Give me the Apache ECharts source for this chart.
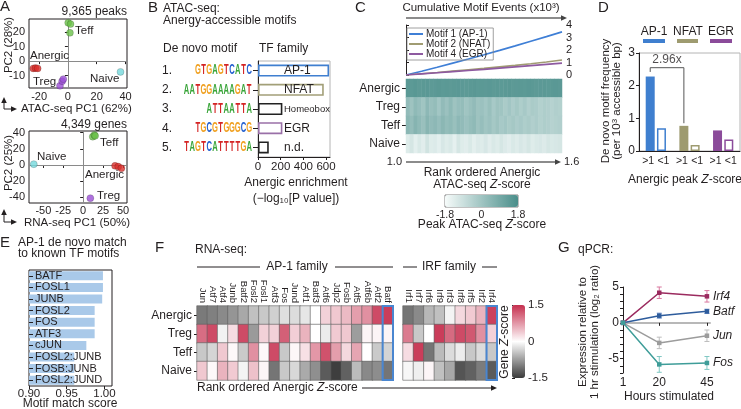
<!DOCTYPE html>
<html>
<head>
<meta charset="utf-8">
<script src="https://cdn.jsdelivr.net/npm/echarts@6/dist/echarts.min.js"></script>
<style>
  html, body { margin: 0; padding: 0; background: #fff; }
  #chart { width: 741px; height: 409px; }
</style>
</head>
<body>
<div id="chart"></div>
<script>
const FONT = 'Liberation Sans, Arial, Helvetica, sans-serif';
const INK = '#231f20';

// ---------- A: PCA ----------
const atacTeff = [[0.2, 26.4], [1.8, 25.5], [1.4, 19.5]];
const atacAnergic = [[-24, -5], [-22.5, -4.8], [-21, -5]];
const atacTreg = [[-5.5, -17], [-4, -13.8], [-3.2, -12.4]];
const atacNaive = [[36.5, -7.4]];
const rnaTeff = [[12, 35], [14, 37], [15, 36]];
const rnaAnergic = [[40, -1], [44, -2], [48, -4]];
const rnaTreg = [[9, -41]];
const rnaNaive = [[-62, 1]];
const aTopXTicks = [-20, 0, 20, 40];
const aTopYTicks = [-10, 0, 10, 20];
const aBotXTicks = [-50, -25, 0, 25, 50];
const aBotYTicks = [-40, -20, 0, 20, 40];

// ---------- B: de novo motifs ----------
const bNumbers = ['1.', '2.', '3.', '4.', '5.'];
const bMotifs = ['GTGAGTCATC', 'AATGGAAAAGAT', 'ATTAATTA', 'TGCGTGGGCG', 'TAGTCATTTTGA'];
const bFamilies = ['AP-1', 'NFAT', 'Homeobox', 'EGR', 'n.d.'];
const bEnrich = [627, 580, 215, 215, 95];
const bXTicks = [0, 200, 400, 600];

// ---------- C: cumulative motif events + heatmap ----------
const cLineNames = ['Motif 1 (AP-1)', 'Motif 2 (NFAT)', 'Motif 4 (EGR)'];
const cumAP1 = [0, 0.3, 0.62, 0.95, 1.28, 1.62, 1.97, 2.33, 2.7, 3.07, 3.45];
const cumNFAT = [0, 0.1, 0.2, 0.31, 0.42, 0.53, 0.65, 0.77, 0.9, 1.04, 1.2];
const cumEGR = [0, 0.09, 0.18, 0.27, 0.36, 0.45, 0.55, 0.65, 0.75, 0.85, 0.95];
const cRows = ['Anergic', 'Treg', 'Teff', 'Naive'];
const cAnergic = [1.45,1.42,1.48,1.40,1.44,1.46,1.41,1.43,1.47,1.42,1.45,1.40,1.44,1.46,1.43,1.41,1.45,1.47,1.42,1.44,1.43,1.46,1.40,1.45,1.42,1.44,1.47,1.41,1.43,1.45,1.42,1.46,1.44,1.40,1.43,1.45,1.42,1.44,1.46,1.43];
const cTreg = [0.3,0.05,0.35,0.2,0.0,0.4,0.15,0.25,-0.05,0.3,0.1,0.35,0.05,0.2,0.25,0.0,0.15,0.3,0.05,0.1,-0.05,0.15,-0.15,0.05,0.0,-0.2,-0.05,-0.25,-0.1,-0.3,-0.15,-0.35,-0.2,-0.25,-0.4,-0.3,-0.35,-0.45,-0.35,-0.4];
const cTeff = [0.45,0.25,0.55,0.35,0.15,0.5,0.3,0.4,0.2,0.45,0.25,0.35,0.15,0.4,0.3,0.1,0.25,0.35,0.05,0.2,0.0,0.1,-0.1,0.05,-0.15,-0.05,-0.2,-0.1,-0.25,-0.15,-0.3,-0.2,-0.35,-0.25,-0.4,-0.3,-0.35,-0.45,-0.4,-0.35];
const cNaive = [-1.3,-1.1,-1.4,-1.2,-1.35,-1.0,-1.3,-1.25,-1.4,-1.15,-1.3,-1.2,-1.45,-1.1,-1.3,-1.35,-1.2,-1.4,-1.25,-1.3,-1.15,-1.35,-1.2,-1.3,-1.1,-1.25,-1.35,-1.2,-1.3,-1.15,-1.25,-1.1,-1.3,-1.2,-1.15,-1.25,-1.1,-1.2,-1.15,-1.1];
const cBarTicks = [-1.8, 0, 1.8];

// ---------- D: motif frequency ----------
const dFamilies = ['AP-1', 'NFAT', 'EGR'];
const dHigh = [2.28, 0.77, 0.63];
const dLow = [0.70, 0.18, 0.35];

// ---------- E: AP-1 match scores ----------
const eMotifs = ['BATF', 'FOSL1', 'JUNB', 'FOSL2', 'FOS', 'ATF3', 'cJUN', 'FOSL2:JUNB', 'FOSB:JUNB', 'FOSL2:JUND'];
const eScores = [0.998, 0.998, 0.997, 0.987, 0.987, 0.987, 0.976, 0.96, 0.96, 0.96];
const eXTicks = [0.9, 0.95, 1.0];

// ---------- F: RNA-seq heatmaps ----------
const fRows = ['Anergic', 'Treg', 'Teff', 'Naive'];
const apGenes = ['Jun','Atf7','Atf4','Junb','Batf2','Fosl2','Fosl1','Atf3','Fos','Jund','Atf1','Batf3','Atf6','Jdp2','Fosb','Atf5','Atf6b','Atf2','Batf'];
const apZ = [
  [-1.01,-0.97,-0.89,-0.81,-0.66,-0.48,-0.42,-0.36,-0.24,-0.27,-0.19,0,0.33,0.4,0.5,0.7,0.8,1.3,1.4],
  [1.05,1.3,-0.1,0.25,1.3,-0.77,0.33,0.33,1.15,0.35,0.55,0,-0.15,0.38,0.4,-0.75,0.08,0.08,0.08],
  [-0.42,-0.32,0.4,0.05,-0.4,0.8,0.05,1.3,-0.42,0.06,0.22,0.75,1.25,0.7,0.28,0.65,0,-0.4,-0.33],
  [0.4,0.05,0.55,0.38,-0.08,0.45,0.07,-1.05,-0.42,-0.3,-0.65,-0.85,-1.25,-1.47,-1.2,-0.52,-0.9,-0.87,-1.05]
];
const irfGenes = ['Irf1','Irf7','Irf6','Irf9','Irf3','Irf8','Irf5','Irf2','Irf4'];
const irfZ = [
  [-1.05,-0.89,-0.55,-0.48,-0.08,0.28,0.38,0.55,1.37],
  [0.95,-0.42,0,1.4,1.07,1.3,1.2,0.8,0.33],
  [0.25,1.4,-1.05,-0.52,-0.27,-0.14,-0.42,-0.27,-0.42],
  [-0.06,-0.12,0.07,-0.48,-0.66,-1.3,-1.2,-1.0,-1.25]
];
const fBarTicks = [-1.5, 0, 1.5];

// ---------- G: qPCR ----------
const gHours = [1, 20, 45];
const gGenes = ['Irf4', 'Batf', 'Jun', 'Fos'];
const gMeans = [[0, 4.2, 3.7], [0, 1.0, 1.6], [0, -2.8, -1.8], [0, -5.8, -5.6]];
const gErrs = [[0, 0.8, 0.8], [0, 0.35, 0.3], [0, 0.8, 0.8], [0, 1.1, 0.9]];
const gXTicks = [1, 20, 45];
const gYTicks = [-5, 0, 5];
const gYMinor = [-7, -6, -5, -4, -3, -2, -1, 0, 1, 2, 3, 4, 5];

// ---------- styles ----------
const groupColors = { Anergic: '#d9302c', Teff: '#6cc24a', Treg: '#9b4fd6', Naive: '#74d8dc' };
const logoColors = { A: '#3aa53a', C: '#2460d0', G: '#f0a020', T: '#d42424' };
const bColors = ['#3f7fd0', '#a29f78', '#222222', '#9a70a8', '#222222'];
const cColors = ['#3f7fd6', '#a09c72', '#8e5aa0'];
const dColors = ['#3f7fcf', '#9e9b70', '#8b4b9a'];
const gColors = ['#9b2b5f', '#2e5c9c', '#9c9c9c', '#3f9d99'];
const gErrColors = ['#d9789f', '#7394cc', '#bdbdbd', '#80c8c4'];

const tick = (extra = {}) => Object.assign({ show: true, length: 3, lineStyle: { color: INK, width: 1 } }, extra);
const lab = (extra = {}) => Object.assign({ fontSize: 11.5, color: INK, fontFamily: FONT, margin: 4 }, extra);
const noSplit = { show: false };

const chart = echarts.init(document.getElementById('chart'));
const series = [];

// A scatter
function pcaSeries(name, data, g, zero) {
  const s = {
    type: 'scatter', name: name, xAxisIndex: g, yAxisIndex: g, data: data, symbolSize: 7, z: 5,
    itemStyle: { color: groupColors[name], borderColor: 'rgba(0,0,0,0.35)', borderWidth: 0.6 }
  };
  if (zero) {
    s.markLine = {
      silent: true, symbol: 'none', label: { show: false }, z: 1,
      lineStyle: { color: '#8a8a8a', width: 1, type: 'solid' },
      data: [{ xAxis: 0 }, { yAxis: 0 }]
    };
  }
  return s;
}
series.push(pcaSeries('Teff', atacTeff, 0, true), pcaSeries('Anergic', atacAnergic, 0),
  pcaSeries('Treg', atacTreg, 0), pcaSeries('Naive', atacNaive, 0));
series.push(pcaSeries('Teff', rnaTeff, 1, true), pcaSeries('Anergic', rnaAnergic, 1),
  pcaSeries('Treg', rnaTreg, 1), pcaSeries('Naive', rnaNaive, 1));

// B bars + logos
series.push({
  type: 'bar', xAxisIndex: 2, yAxisIndex: 2, barWidth: 12,
  data: bEnrich.map((v, i) => ({
    value: v,
    itemStyle: { color: '#fff', borderColor: bColors[i], borderWidth: 1.6 },
    label: i === 2 ? { fontSize: 9.5 } : undefined
  })),
  label: { show: true, position: [26, '50%'], align: 'left', verticalAlign: 'middle', fontSize: 12, color: INK, fontFamily: FONT, formatter: '{b}' }
});
series.push({
  type: 'custom', xAxisIndex: 2, yAxisIndex: 2, silent: true, clip: false,
  data: bMotifs.map((m, i) => [0, i]),
  renderItem: function (params, api) {
    const motif = bMotifs[params.dataIndex];
    const y = api.coord([0, api.value(1)])[1];
    const xEnd = params.coordSys.x - 6;
    const lw = 5.7;
    return {
      type: 'group',
      children: motif.split('').map((ch, k) => ({
        type: 'text', x: xEnd - (motif.length - k - 0.5) * lw, y: y, scaleX: 0.8, scaleY: 1.45,
        style: { text: ch, fill: logoColors[ch], fontFamily: FONT, fontWeight: 'bold', fontSize: 9.5, align: 'center', verticalAlign: 'middle' }
      }))
    };
  }
});

// C lines
[cumAP1, cumNFAT, cumEGR].forEach((vals, i) => {
  series.push({
    type: 'line', name: cLineNames[i], xAxisIndex: 3, yAxisIndex: 4, showSymbol: false,
    data: vals.map((v, k) => [k, v]), lineStyle: { width: 1.6, color: cColors[i] }, itemStyle: { color: cColors[i] }
  });
});
// C heatmap
const cHeatIdx = series.length;
const cHeat = [];
[cAnergic, cTreg, cTeff, cNaive].forEach((row, r) => row.forEach((v, c) => cHeat.push([c, r, v])));
series.push({ type: 'heatmap', xAxisIndex: 4, yAxisIndex: 5, data: cHeat });

// D bars
series.push({
  type: 'bar', xAxisIndex: 6, yAxisIndex: 7, barWidth: 9, barGap: '25%',
  data: dHigh.map((v, i) => ({ value: v, itemStyle: { color: dColors[i] } })),
  label: { show: true, position: 'bottom', distance: 5, offset: [-2, 0], formatter: '>1', fontSize: 10.5, color: INK, fontFamily: FONT }
});
series.push({
  type: 'bar', xAxisIndex: 6, yAxisIndex: 7, barWidth: 9, barGap: '25%',
  data: dLow.map((v, i) => ({ value: v, itemStyle: { color: '#fff', borderColor: dColors[i], borderWidth: 1.5 } })),
  label: { show: true, position: 'bottom', distance: 5, offset: [2, 0], formatter: '<1', fontSize: 10.5, color: INK, fontFamily: FONT }
});
// bracket between AP-1 >1 and NFAT >1 (hidden value x axis, category i centre = i + 0.5)
const dOff = ((9 + 9 * 0.25) / 2) / (101 / 3);
const bracketTop = 2.55;
const bracket = [[0.5 - dOff, dHigh[0] + 0.14], [0.5 - dOff, bracketTop], [1.5 - dOff, bracketTop], [1.5 - dOff, dHigh[1] + 0.08]];
series.push({
  type: 'line', xAxisIndex: 7, yAxisIndex: 7, data: bracket, symbol: 'none', silent: true,
  lineStyle: { color: '#555', width: 1 }
});
series.push({
  type: 'scatter', xAxisIndex: 7, yAxisIndex: 7, symbolSize: 0, silent: true,
  data: [[1 - dOff, bracketTop]],
  label: { show: true, position: 'top', distance: 2, fontSize: 12, color: INK, fontFamily: FONT,
    formatter: () => (dHigh[0] / dHigh[1]).toFixed(2) + 'x' }
});

// E bars
series.push({
  type: 'bar', xAxisIndex: 8, yAxisIndex: 8, barWidth: 9, data: eScores, z: 1,
  itemStyle: { color: '#a9c9e9' }
});

// F heatmaps
function heatData(mat) {
  const out = [];
  mat.forEach((row, r) => row.forEach((v, c) => out.push([c, r, v])));
  return out;
}
const fHeatA = series.length;
series.push({ type: 'heatmap', xAxisIndex: 9, yAxisIndex: 9, data: heatData(apZ), itemStyle: { borderColor: '#5e5e5e', borderWidth: 0.6 } });
const fHeatI = series.length;
series.push({ type: 'heatmap', xAxisIndex: 10, yAxisIndex: 10, data: heatData(irfZ), itemStyle: { borderColor: '#5e5e5e', borderWidth: 0.6 } });
function renderColumnBox(params, api) {
  const cs = params.coordSys;
  const c = api.coord([api.value(0), api.value(1)]);
  const w = api.size([1, 0])[0];
  return { type: 'rect', shape: { x: c[0] - w / 2, y: cs.y, width: w, height: cs.height },
    style: { fill: 'none', stroke: '#4a86d0', lineWidth: 2 } };
}
series.push({ type: 'custom', xAxisIndex: 9, yAxisIndex: 9, silent: true, z: 5,
  data: [[apGenes.length - 1, 0]], renderItem: renderColumnBox });
series.push({ type: 'custom', xAxisIndex: 10, yAxisIndex: 10, silent: true, z: 5,
  data: [[irfGenes.length - 1, 0]], renderItem: renderColumnBox });

// G lines with error bars
gGenes.forEach((g, i) => {
  series.push({
    type: 'custom', xAxisIndex: 11, yAxisIndex: 11, silent: true, z: 3,
    itemStyle: { color: gErrColors[i] },
    data: gHours.map((h, k) => [h, gMeans[i][k] - gErrs[i][k], gMeans[i][k] + gErrs[i][k]]).filter((d, k) => gErrs[i][k] > 0),
    renderItem: function (params, api) {
      const x = api.value(0);
      const p1 = api.coord([x, api.value(1)]);
      const p2 = api.coord([x, api.value(2)]);
      const col = api.visual('color');
      const cap = 2.5;
      return { type: 'group', children: [
        { type: 'line', shape: { x1: p1[0], y1: p1[1], x2: p2[0], y2: p2[1] }, style: { stroke: col, lineWidth: 1 } },
        { type: 'line', shape: { x1: p1[0] - cap, y1: p1[1], x2: p1[0] + cap, y2: p1[1] }, style: { stroke: col, lineWidth: 1 } },
        { type: 'line', shape: { x1: p2[0] - cap, y1: p2[1], x2: p2[0] + cap, y2: p2[1] }, style: { stroke: col, lineWidth: 1 } }
      ] };
    }
  });
  series.push({
    type: 'line', name: g, xAxisIndex: 11, yAxisIndex: 11, z: 4,
    data: gHours.map((h, k) => [h, gMeans[i][k]]),
    symbol: 'rect', symbolSize: 4.5,
    lineStyle: { width: 1.5, color: gColors[i] }, itemStyle: { color: gColors[i] },
    endLabel: { show: true, formatter: '{a}', distance: 6, fontStyle: 'italic', fontSize: 12, color: INK, fontFamily: FONT }
  });
});

// ---------- graphic annotations ----------
function T(text, x, y, o = {}) {
  return {
    type: 'text', x: x, y: y, rotation: o.rot ? Math.PI / 2 : 0, silent: true, z: 10,
    style: {
      text: text, fill: INK, fontFamily: FONT, fontSize: o.size || 12,
      fontStyle: o.italic ? 'italic' : 'normal', align: o.align || 'left', verticalAlign: 'middle',
      lineHeight: o.lh, rich: o.rich
    }
  };
}
function L(x1, y1, x2, y2, color = INK, w = 1) {
  return { type: 'line', silent: true, shape: { x1, y1, x2, y2 }, style: { stroke: color, lineWidth: w } };
}
function head(x, y, dir, color = INK) {
  const pts = dir === 'r' ? [[x, y], [x - 6, y - 2.8], [x - 6, y + 2.8]] : [[x, y], [x - 2.8, y + 6], [x + 2.8, y + 6]];
  return { type: 'polygon', silent: true, shape: { points: pts }, style: { fill: color } };
}
const zr = (size) => ({ i: { fontStyle: 'italic', fontSize: size, fontFamily: FONT, fill: INK } });
const RICH = { sup: { fontSize: 8, fontFamily: FONT, fill: INK, verticalAlign: 'top', padding: [0, 0, 5, 0] } };

const elements = [
  // panel letters
  T('A', 0, 7, { size: 15 }), T('B', 148, 8, { size: 15 }), T('C', 355, 8, { size: 15 }),
  T('D', 598, 8, { size: 15 }), T('E', 0, 243, { size: 15 }), T('F', 155, 248, { size: 15 }),
  T('G', 558, 248, { size: 15 }),
  // A
  T('9,365 peaks', 127, 12, { align: 'right' }), T('4,349 genes', 127, 125, { align: 'right' }),
  T('Teff', 75, 31, { size: 11.5 }), T('Anergic', 30, 56, { size: 11.5 }), T('Treg', 33, 82, { size: 11.5 }), T('Naive', 90, 79, { size: 11.5 }),
  T('Teff', 100, 143, { size: 11.5 }), T('Naive', 37, 157, { size: 11.5 }), T('Anergic', 85, 175, { size: 11.5 }), T('Treg', 97, 196, { size: 11.5 }),
  T('PC2 (28%)', 9, 45, { rot: true, align: 'center', size: 11.5 }),
  T('PC2 (25%)', 9, 163, { rot: true, align: 'center', size: 11.5 }),
  T('ATAC-seq PC1 (62%)', 21, 109, { size: 11.5 }),
  T('RNA-seq PC1 (50%)', 24, 223, { size: 11.5 }),
  L(4, 109, 4, 101), head(4, 97, 'u'), L(4, 109, 12, 109), head(17, 109, 'r'),
  L(4, 222, 4, 214), head(4, 209, 'u'), L(4, 222, 12, 222), head(17, 222, 'r'),
  // B
  T('ATAC-seq:', 163, 9), T('Anergy-accessible motifs', 163, 21),
  T('De novo motif', 163, 49), T('TF family', 259, 49),
  T('Anergic enrichment', 296, 183, { align: 'center' }),
  T('(\u2212log\u2081\u2080[P value])', 296, 199, { align: 'center' }),
  // C
  T('Cumulative Motif Events (x10\u00b3)', 481, 8, { align: 'center', size: 11.5 }),
  L(406, 18, 561, 18, '#666', 1.5), head(567, 18, 'r', '#444'),
  T('1.0', 402, 162, { align: 'right', size: 11 }),
  L(406, 162, 555, 162, '#666', 1.5), head(561, 162, 'r', '#444'),
  T('1.6', 564, 162, { size: 11 }),
  T('Rank ordered Anergic', 482, 173, { align: 'center' }),
  T('ATAC-seq {i|Z}-score', 482, 185, { align: 'center', rich: zr(12) }),
  T('Peak ATAC-seq {i|Z}-score', 482, 225, { align: 'center', rich: zr(12) }),
  // D legend + titles
  T('AP-1', 654, 32, { align: 'center' }), T('NFAT', 688, 32, { align: 'center' }), T('EGR', 721, 32, { align: 'center' }),
  { type: 'rect', silent: true, shape: { x: 643, y: 39, width: 22, height: 4 }, style: { fill: dColors[0] } },
  { type: 'rect', silent: true, shape: { x: 677, y: 39, width: 21, height: 4 }, style: { fill: dColors[1] } },
  { type: 'rect', silent: true, shape: { x: 710, y: 39, width: 22, height: 4 }, style: { fill: dColors[2] } },
  T('De novo motif frequency\n(per 10{sup|3} accessible bp)', 611, 101, { rot: true, align: 'center', size: 11.5, lh: 11, rich: RICH }),
  T('Anergic peak {i|Z}-score', 685, 180, { align: 'center', rich: zr(12) }),
  // E
  T('AP-1 de novo match', 18, 243), T('to known TF motifs', 18, 254),
  T('Motif match score', 70, 404, { align: 'center', size: 12 }),
  // F
  T('RNA-seq:', 195, 250),
  L(197, 267, 260, 267), T('AP-1 family', 297, 267, { align: 'center' }), L(335, 267, 393, 267),
  L(403, 267, 417, 267), T('IRF family', 449, 267, { align: 'center' }), L(482, 267, 497, 267),
  T('Rank ordered Anergic {i|Z}-score', 197, 388, { rich: zr(12) }),
  L(362, 388, 492, 388), head(497, 388, 'r'),
  T('Gene {i|Z}-score', 505, 342, { rot: true, align: 'center', rich: zr(12) }),
  // G
  T('qPCR:', 578, 250),
  T('Expression relative to\n1 hr stimulation (log\u2082 ratio)', 589, 332, { rot: true, align: 'center', size: 11.5, lh: 12 }),
  T('Hours stimulated', 669, 397, { align: 'center' })
];

const option = {
  animation: false,
  textStyle: { fontFamily: FONT, color: INK },
  grid: [
    { left: 29, top: 19, width: 98, height: 69, show: true, borderColor: INK, borderWidth: 1 },
    { left: 29, top: 131, width: 98, height: 72, show: true, borderColor: INK, borderWidth: 1 },
    { left: 258, top: 61, width: 72, height: 96, show: true, borderColor: '#b4b4b4', borderWidth: 1 },
    { left: 406, top: 25, width: 156, height: 50 },
    { left: 406, top: 79, width: 156, height: 74 },
    { left: 445, top: 195, width: 73, height: 12, show: true, borderColor: '#666', borderWidth: 0.8 },
    { left: 639, top: 53, width: 101, height: 98, show: true, borderColor: '#b4b4b4', borderWidth: 1 },
    { left: 29, top: 270, width: 83, height: 116, show: true, borderColor: INK, borderWidth: 1 },
    { left: 197, top: 306, width: 196, height: 74 },
    { left: 403, top: 306, width: 94, height: 74 },
    { left: 623, top: 287, width: 87, height: 86 },
    { left: 512, top: 305, width: 13, height: 73 }
  ],
  xAxis: [
    { gridIndex: 0, type: 'value', min: -27, max: 41, axisLine: { show: false }, axisTick: tick({ customValues: aTopXTicks }), axisLabel: lab({ customValues: aTopXTicks, fontSize: 11, margin: 3 }), splitLine: noSplit },
    { gridIndex: 1, type: 'value', min: -68, max: 55, axisLine: { show: false }, axisTick: tick({ customValues: aBotXTicks }), axisLabel: lab({ customValues: aBotXTicks, fontSize: 11, margin: 2 }), splitLine: noSplit },
    { gridIndex: 2, type: 'value', min: 0, max: 635, axisLine: { show: true, lineStyle: { color: INK } }, axisTick: tick({ customValues: bXTicks }), axisLabel: lab({ customValues: bXTicks }), splitLine: noSplit },
    { gridIndex: 3, type: 'value', min: 0, max: 10, show: false },
    { gridIndex: 4, type: 'category', data: cAnergic.map((v, i) => i), show: false },
    { gridIndex: 5, type: 'value', min: -1.8, max: 1.8, axisLine: { show: false }, axisTick: { show: false }, axisLabel: lab({ customValues: cBarTicks, fontSize: 10.5, margin: 3 }), splitLine: noSplit },
    { gridIndex: 6, type: 'category', data: dFamilies, axisLine: { show: true, lineStyle: { color: INK } }, axisTick: { show: false }, axisLabel: { show: false } },
    { gridIndex: 6, type: 'value', min: 0, max: 3, show: false },
    { gridIndex: 7, type: 'value', min: 0.9, max: 1.01, axisLine: { show: false }, axisTick: tick({ customValues: eXTicks }), axisLabel: lab({ customValues: eXTicks, fontSize: 11.5, margin: 2, formatter: v => v.toFixed(2) }), splitLine: noSplit },
    { gridIndex: 8, type: 'category', data: apGenes, position: 'top', axisLine: { show: false }, axisTick: { show: false }, axisLabel: { rotate: 90, fontSize: 9.5, margin: 3, interval: 0, color: INK, fontFamily: FONT } },
    { gridIndex: 9, type: 'category', data: irfGenes, position: 'top', axisLine: { show: false }, axisTick: { show: false }, axisLabel: { rotate: 90, fontSize: 9.5, margin: 3, interval: 0, color: INK, fontFamily: FONT } },
    { gridIndex: 10, type: 'value', min: 1, max: 46.6, axisLine: { show: true, lineStyle: { color: '#b8b8b8', width: 2 } }, axisTick: tick({ customValues: gXTicks }), axisLabel: lab({ customValues: gXTicks, fontSize: 12 }), splitLine: noSplit },
    { gridIndex: 11, type: 'value', min: 0, max: 1, show: false }
  ],
  yAxis: [
    { gridIndex: 0, type: 'value', min: -18.5, max: 29, axisLine: { show: false }, axisTick: tick({ customValues: aTopYTicks }), axisLabel: lab({ customValues: aTopYTicks, fontSize: 11 }), splitLine: noSplit },
    { gridIndex: 1, type: 'value', min: -47, max: 42, axisLine: { show: false }, axisTick: tick({ customValues: aBotYTicks }), axisLabel: lab({ customValues: aBotYTicks, fontSize: 11 }), splitLine: noSplit },
    { gridIndex: 2, type: 'category', data: bFamilies, inverse: true, axisLine: { show: true, lineStyle: { color: INK } }, axisTick: { show: true, length: 5, alignWithLabel: true, lineStyle: { color: INK } }, axisLabel: { show: false } },
    { gridIndex: 2, type: 'category', data: bNumbers, inverse: true, position: 'left', offset: 80, axisLine: { show: false }, axisTick: { show: false }, axisLabel: lab({ fontSize: 12, margin: 6 }) },
    { gridIndex: 3, type: 'value', position: 'right', min: 0, max: 4, interval: 1, axisLine: { show: true, lineStyle: { color: INK } }, axisTick: tick(), axisLabel: lab({ fontSize: 11 }), splitLine: noSplit },
    { gridIndex: 4, type: 'category', data: cRows, inverse: true, axisLine: { show: false }, axisTick: { show: true, length: 4, alignWithLabel: true, lineStyle: { color: INK } }, axisLabel: lab({ fontSize: 12, margin: 6 }) },
    { gridIndex: 5, type: 'value', min: 0, max: 1, show: false },
    { gridIndex: 6, type: 'value', min: 0, max: 3, interval: 1, axisLine: { show: true, lineStyle: { color: INK } }, axisTick: tick(), axisLabel: lab({ fontSize: 12 }), splitLine: noSplit },
    { gridIndex: 7, type: 'category', data: eMotifs, inverse: true, z: 10, axisLine: { show: false }, axisTick: { show: true, inside: true, length: 4, alignWithLabel: true, lineStyle: { color: INK } }, axisLabel: { inside: true, interval: 0, margin: 6, fontSize: 11, color: INK, fontFamily: FONT } },
    { gridIndex: 8, type: 'category', data: fRows, inverse: true, axisLine: { show: false }, axisTick: { show: true, length: 3, alignWithLabel: true, lineStyle: { color: INK } }, axisLabel: lab({ fontSize: 12, margin: 5 }) },
    { gridIndex: 9, type: 'category', data: fRows, inverse: true, show: false },
    { gridIndex: 10, type: 'value', min: -7, max: 5, axisLine: { show: true, lineStyle: { color: INK } }, axisTick: tick({ customValues: gYMinor }), axisLabel: lab({ customValues: gYTicks, fontSize: 12 }), splitLine: noSplit },
    { gridIndex: 11, type: 'value', position: 'right', min: -1.5, max: 1.5, axisLine: { show: false }, axisTick: tick({ customValues: fBarTicks }), axisLabel: lab({ customValues: fBarTicks, margin: 3 }), splitLine: noSplit }
  ],
  legend: {
    data: cLineNames, left: 407, top: 28, orient: 'vertical', icon: 'rect', itemWidth: 14, itemHeight: 2,
    itemGap: 0, padding: [1, 3, 1, 2], borderColor: '#888', borderWidth: 0.8, selectedMode: false,
    textStyle: { fontSize: 10, lineHeight: 9, color: INK, fontFamily: FONT, padding: [0, 0, 0, -2] }
  },
  visualMap: [
    { type: 'continuous', seriesIndex: cHeatIdx, min: -1.8, max: 1.8, orient: 'horizontal', left: 445, top: 195,
      itemWidth: 12, itemHeight: 73, padding: 0, calculable: false, inRange: { color: ['#f6fbfa', '#4a8e8a'] } },
    { type: 'continuous', seriesIndex: [fHeatA, fHeatI], min: -1.5, max: 1.5, orient: 'vertical', left: 512, top: 305,
      itemWidth: 13, itemHeight: 73, padding: 0, calculable: false, inRange: { color: ['#3a3a3a', '#ffffff', '#c62f4e'] } }
  ],
  series: series,
  graphic: { elements: elements }
};
chart.setOption(option);
</script>
</body>
</html>
